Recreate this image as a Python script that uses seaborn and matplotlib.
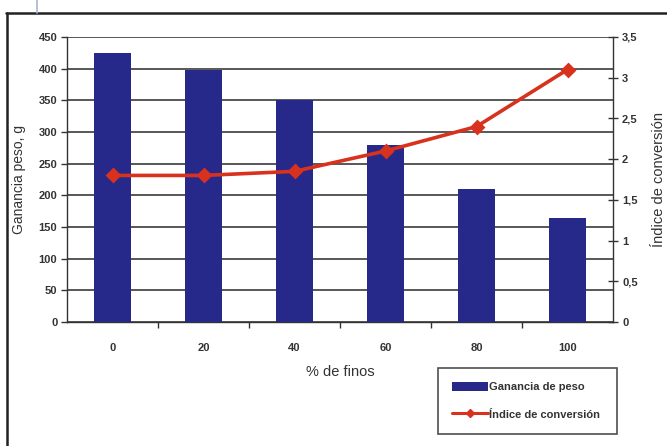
import matplotlib
matplotlib.use("Agg")
import matplotlib.pyplot as plt
from matplotlib.lines import Line2D
from matplotlib.patches import Patch
import numpy as np
import pandas as pd
import seaborn as sns

# Data
finos = ["0", "20", "40", "60", "80", "100"]
ganancia_peso = [425, 398, 350, 280, 210, 165]
indice_conversion = [1.80, 1.80, 1.85, 2.10, 2.40, 3.10]

left_ticks = [0, 50, 100, 150, 200, 250, 300, 350, 400, 450]
right_ticks = [0, 0.5, 1, 1.5, 2, 2.5, 3, 3.5]
right_tick_labels = ["0", "0,5", "1", "1,5", "2", "2,5", "3", "3,5"]

BAR_COLOR = "#27298a"
LINE_COLOR = "#d8321e"
GRID_COLOR = "#4a4a4a"

sns.set_theme(style="white")
plt.rcParams["font.family"] = ["Liberation Sans Narrow", "Liberation Sans", "DejaVu Sans"]

df = pd.DataFrame({"finos": finos, "ganancia": ganancia_peso, "indice": indice_conversion})

fig = plt.figure(figsize=(6.67, 4.46), dpi=100)
ax = fig.add_axes([67 / 667, 1 - 322 / 446, (613 - 67) / 667, (322 - 37) / 446])

sns.barplot(data=df, x="finos", y="ganancia", color=BAR_COLOR, saturation=1,
            width=0.41, ax=ax, zorder=3, edgecolor="none")
ax.set_ylim(0, 450)
ax.set_xlim(-0.5, len(finos) - 0.5)
ax.set_yticks(left_ticks)
ax.set_yticklabels([str(t) for t in left_ticks])
ax.yaxis.grid(True, color=GRID_COLOR, linewidth=1.3, zorder=0)
ax.set_axisbelow(True)

for side in ["top", "right"]:
    ax.spines[side].set_visible(False)
ax.spines["left"].set_color("#333333")
ax.spines["bottom"].set_color("#333333")
ax.spines["left"].set_linewidth(1.0)
ax.spines["bottom"].set_linewidth(1.0)

# category labels centred, ticks on category boundaries
ax.set_xticks(np.arange(len(finos)))
ax.set_xticklabels(finos)
ax.tick_params(axis="x", which="major", length=0, pad=15, labelsize=8)
ax.set_xticks(np.arange(len(finos) - 1) + 0.5, minor=True)
ax.tick_params(axis="x", which="minor", direction="out", length=4, width=1, color="#333333", bottom=True)
ax.tick_params(axis="y", direction="out", length=4, width=1, color="#333333", labelsize=8, pad=3, left=True)
for lbl in ax.get_xticklabels() + ax.get_yticklabels():
    lbl.set_fontweight("bold")
    lbl.set_color("#333333")

ax.set_xlabel("% de finos", fontsize=10.5, color="#333333", labelpad=9)
ax.set_ylabel("Ganancia peso, g", fontsize=10, color="#333333", labelpad=9)

# conversion index on secondary axis
ax2 = ax.twinx()
sns.pointplot(data=df, x="finos", y="indice", color=LINE_COLOR, markers="D",
              linestyles="-", ax=ax2, markersize=6, linewidth=2.6, zorder=5)
ax2.set_ylim(0, 3.5)
ax2.set_xlim(-0.5, len(finos) - 0.5)
ax2.set_yticks(right_ticks)
ax2.set_yticklabels(right_tick_labels)
ax2.tick_params(axis="y", direction="inout", length=7, width=1, color="#333333",
                labelsize=8, pad=3, right=True)
for lbl in ax2.get_yticklabels():
    lbl.set_fontweight("bold")
    lbl.set_color("#333333")
for side in ["top", "left", "bottom"]:
    ax2.spines[side].set_visible(False)
ax2.spines["right"].set_color("#333333")
ax2.spines["right"].set_linewidth(1.0)
ax2.set_xlabel("")
ax2.set_ylabel("Índice de conversión", fontsize=10.5, color="#333333", labelpad=10)
ax2.yaxis.set_label_position("right")

# legend
handles = [
    Patch(facecolor=BAR_COLOR, edgecolor="none", label="Ganancia de peso"),
    Line2D([0], [0], color=LINE_COLOR, linewidth=2.2, marker="D", markersize=4,
           label="Índice de conversión"),
]
leg = fig.legend(handles=handles, loc="lower left",
                 bbox_to_anchor=(438 / 667, 1 - 434 / 446, (617 - 438) / 667, (434 - 368) / 446),
                 mode="expand", frameon=True, fancybox=False, fontsize=8,
                 handlelength=3.2, handleheight=0.9, handletextpad=0.1,
                 borderpad=1.3, labelspacing=1.5, borderaxespad=0)
leg.get_frame().set_edgecolor("#222222")
leg.get_frame().set_linewidth(1.2)
for t in leg.get_texts():
    t.set_fontweight("bold")
    t.set_color("#333333")

# outer frame
fig.add_artist(Line2D([6 / 667, 1], [1 - 13 / 446, 1 - 13 / 446], transform=fig.transFigure,
                      color="#222222", linewidth=1.8))
fig.add_artist(Line2D([7 / 667, 7 / 667], [0, 1 - 13 / 446], transform=fig.transFigure,
                      color="#222222", linewidth=1.8))
fig.add_artist(Line2D([37 / 667, 37 / 667], [1 - 13 / 446, 1], transform=fig.transFigure,
                      color="#aab4d2", linewidth=1.2))

fig.savefig("out.png", dpi=100)
